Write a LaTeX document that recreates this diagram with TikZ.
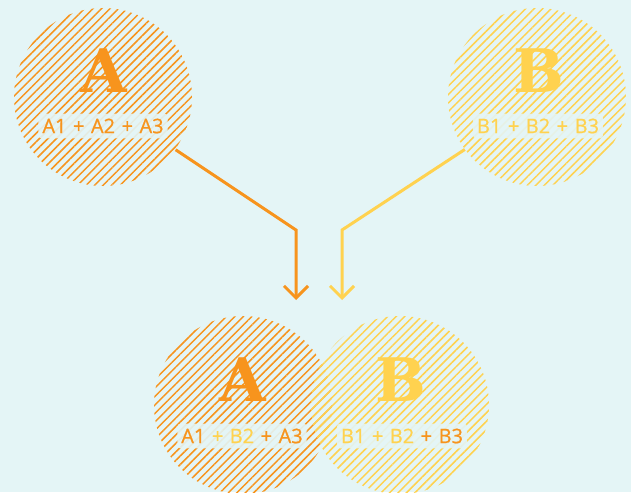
\documentclass[tikz,border=0pt]{standalone}
\usepackage{fontspec}
\setmainfont{Open Sans}[UprightFeatures={FakeBold=0.8}]
\newfontfamily\slab{DejaVu Serif}
\usetikzlibrary{patterns.meta,arrows.meta}
\definecolor{bg}{HTML}{E4F5F6}
\definecolor{orA}{HTML}{F7941D}
\definecolor{yeB}{HTML}{FFD24F}
\newcommand{\pl}{\hspace{6.5pt}+\hspace{6.5pt}}
\tikzset{
  blob/.style={circle, minimum size=178pt, inner sep=0pt},
  hatchA/.style={blob, pattern={Lines[angle=45,distance=6pt,line width=1.5pt]}, pattern color=orA},
  hatchB/.style={blob, pattern={Lines[angle=45,distance=6pt,line width=1.5pt]}, pattern color=yeB},
  big/.style={font=\slab\bfseries\fontsize{60}{60}\selectfont, inner sep=0pt},
  lab/.style={font=\fontsize{20}{20}\selectfont, fill=bg, fill opacity=0.9, text opacity=1, rounded corners=3pt, inner xsep=4pt, inner ysep=5pt},
  conn/.style={line width=3pt, -{Straight Barb[length=12pt,width=24pt,line width=3pt]}}
}
\begin{document}
\begin{tikzpicture}[x=1pt,y=-1pt]
\fill[bg] (0,0) rectangle (631,492);
\useasboundingbox (0,0) rectangle (631,492);
\node[hatchA] (A) at (103,97) {};
\node[hatchB] (B) at (537,97) {};
\node[hatchA] (A2) at (243,405) {};
\node[hatchB] (B2) at (400,405) {};
\node[big, text=orA] (tA) at (104,71) {A};
\node[big, text=yeB] (tB) at (539,71) {B};
\node[big, text=orA] (tA2) at (243,380) {A};
\node[big, text=yeB] (tB2) at (401,380) {B};
\node[lab, text=orA] (lA) at (103,126) {A1\pl A2\pl A3};
\node[lab, text=yeB] (lB) at (538,126) {B1\pl B2\pl B3};
\node[lab] (lA2) at (242,436) {\textcolor{orA}{A1}\textcolor{yeB}{\pl B2}\textcolor{orA}{\pl A3}};
\node[lab] (lB2) at (402,436) {\textcolor{yeB}{B1\pl B2}\textcolor{orA}{\pl B3}};
\coordinate (kA) at (296,230);
\coordinate (kB) at (342,230);
\coordinate (eA) at (296,300);
\coordinate (eB) at (342,300);
\draw[conn, orA] (A.-36) -- (kA) -- (eA);
\draw[conn, yeB] (B.-144) -- (kB) -- (eB);
\end{tikzpicture}
\end{document}
